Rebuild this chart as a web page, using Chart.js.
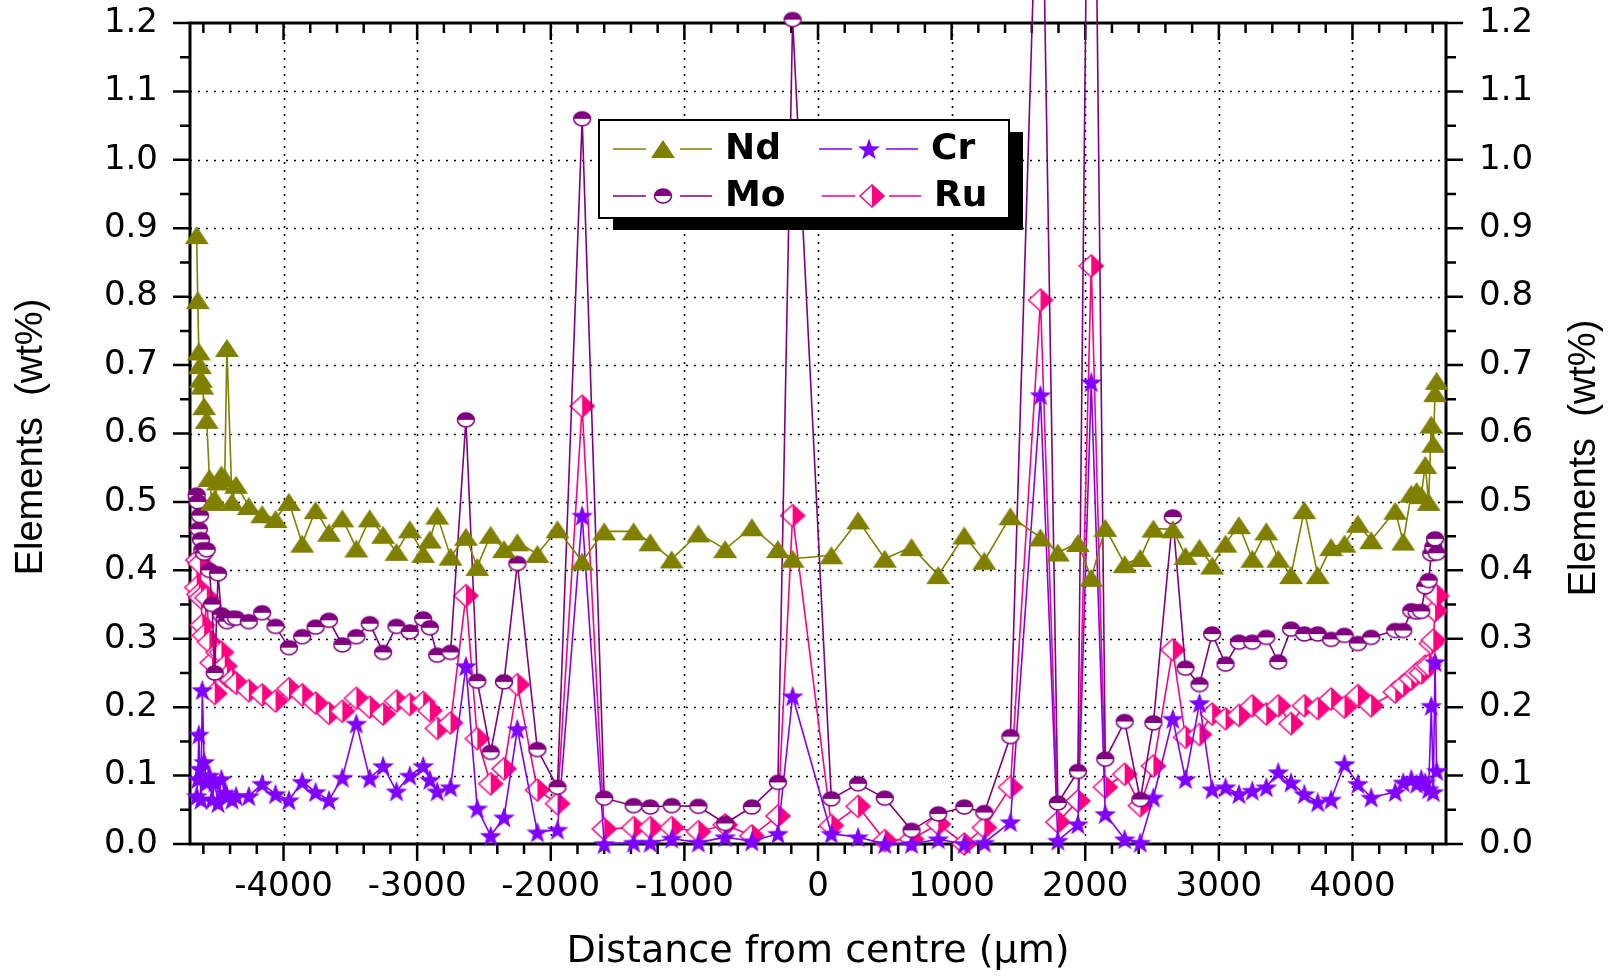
<!DOCTYPE html>
<html>
<head>
<meta charset="utf-8">
<script src="https://cdn.jsdelivr.net/npm/chart.js@4.4.0/dist/chart.umd.min.js"></script>
<style>
  html, body { margin: 0; padding: 0; background: #fff; }
  #wrap { width: 1614px; height: 976px; }
</style>
</head>
<body>
<div id="wrap"><canvas id="chart" width="1614" height="976"></canvas></div>
<script>
// distance from centre (um), shared by all four elements
const distance = [
  -4650, -4642, -4634, -4626, -4618, -4608, -4594, -4575, -4555, -4535, -4515, -4490, -4465, -4440, -4424, -4385, -4355,
  -4260, -4160, -4060, -3960, -3860, -3760, -3660, -3560, -3455, -3355, -3255, -3155, -3055, -2955, -2905, -2850, -2750,
  -2635, -2550, -2450, -2350, -2250, -2100, -1950, -1765, -1600, -1380, -1255, -1095, -895, -695, -495, -300, -190,
  100, 300, 500, 700, 900, 1095, 1245, 1440, 1665, 1795, 1945, 2045, 2150, 2295, 2412, 2510, 2655, 2750, 2855, 2950,
  3050, 3150, 3250, 3355, 3445, 3540, 3640, 3740, 3840, 3940, 4040, 4140, 4320, 4380, 4440, 4480, 4515, 4545, 4570,
  4590, 4605, 4618, 4630
];
const nd = [
  0.89, 0.795, 0.72, 0.70, 0.68, 0.67, 0.64, 0.62, 0.535, 0.50, 0.505, 0.53, 0.54, 0.535, 0.725, 0.50, 0.525,
  0.494, 0.482, 0.475, 0.50, 0.439, 0.488, 0.455, 0.476, 0.432, 0.476, 0.452, 0.427, 0.46, 0.424, 0.445, 0.48, 0.42,
  0.449, 0.405, 0.452, 0.431, 0.441, 0.424, 0.46, 0.413, 0.457, 0.457, 0.441, 0.416, 0.454, 0.431, 0.463, 0.431, 0.417,
  0.422, 0.473, 0.417, 0.434, 0.393, 0.451, 0.414, 0.479, 0.448, 0.426, 0.44, 0.389, 0.462, 0.409, 0.418, 0.461, 0.46, 0.421, 0.433, 0.407,
  0.439, 0.466, 0.417, 0.457, 0.417, 0.393, 0.488, 0.393, 0.434, 0.439, 0.468, 0.444, 0.487, 0.442, 0.512, 0.516, 0.51, 0.554, 0.50,
  0.613, 0.585, 0.659, 0.677
];
const mo = [
  0.51, 0.50, 0.46, 0.48, 0.445, 0.43, 0.425, 0.43, 0.40, 0.35, 0.25, 0.395, 0.335, 0.33, 0.325, 0.33, 0.33,
  0.325, 0.338, 0.318, 0.287, 0.303, 0.317, 0.327, 0.291, 0.303, 0.322, 0.28, 0.318, 0.31, 0.329, 0.316, 0.276, 0.28,
  0.62, 0.238, 0.134, 0.237, 0.41, 0.138, 0.083, 1.06, 0.067, 0.056, 0.054, 0.056, 0.055, 0.03, 0.054, 0.09, 1.205,
  0.066, 0.088, 0.067, 0.02, 0.044, 0.054, 0.046, 0.157, 1.6, 0.06, 0.106, 2.0, 0.124, 0.179, 0.065, 0.177, 0.478, 0.257, 0.233, 0.307,
  0.263, 0.295, 0.295, 0.302, 0.266, 0.314, 0.307, 0.307, 0.299, 0.305, 0.293, 0.302, 0.312, 0.312, 0.341, 0.339, 0.34, 0.376, 0.385,
  0.424, 0.434, 0.446, 0.425
];
const cr = [
  0.07, 0.095, 0.16, 0.11, 0.065, 0.225, 0.12, 0.09, 0.10, 0.065, 0.09, 0.06, 0.095, 0.075, 0.07, 0.065, 0.07,
  0.07, 0.088, 0.073, 0.064, 0.091, 0.076, 0.064, 0.097, 0.176, 0.096, 0.114, 0.077, 0.10, 0.114, 0.094, 0.077, 0.083,
  0.26, 0.052, 0.012, 0.039, 0.168, 0.017, 0.021, 0.48, 0.0, 0.002, 0.002, 0.008, 0.002, 0.01, 0.004, 0.015, 0.216,
  0.015, 0.01, 0.0, 0.0, 0.007, 0.0, 0.002, 0.032, 0.656, 0.005, 0.029, 0.675, 0.044, 0.007, 0.002, 0.068, 0.183, 0.095, 0.206, 0.08,
  0.083, 0.073, 0.078, 0.083, 0.105, 0.09, 0.073, 0.061, 0.065, 0.117, 0.088, 0.068, 0.076, 0.09, 0.095, 0.088, 0.095, 0.09, 0.08,
  0.202, 0.076, 0.266, 0.107
];
const ru = [
  0.375, 0.415, 0.365, 0.41, 0.36, 0.32, 0.305, 0.36, 0.295, 0.265, 0.22, 0.28, 0.28, 0.26, 0.245, 0.24, 0.235,
  0.224, 0.218, 0.209, 0.227, 0.218, 0.206, 0.191, 0.194, 0.213, 0.20, 0.19, 0.209, 0.204, 0.207, 0.195, 0.169, 0.177,
  0.363, 0.154, 0.088, 0.11, 0.233, 0.079, 0.059, 0.64, 0.022, 0.024, 0.024, 0.024, 0.018, 0.028, 0.012, 0.041, 0.48,
  0.027, 0.055, 0.005, 0.007, 0.029, 0.0, 0.024, 0.083, 0.795, 0.032, 0.063, 0.845, 0.083, 0.102, 0.056, 0.114, 0.284, 0.156, 0.16, 0.19,
  0.183, 0.188, 0.202, 0.19, 0.202, 0.176, 0.202, 0.198, 0.212, 0.20, 0.217, 0.202, 0.222, 0.232, 0.241, 0.249, 0.25, 0.26, 0.261,
  0.293, 0.298, 0.341, 0.363
];

const xTicks = [-4000, -3000, -2000, -1000, 0, 1000, 2000, 3000, 4000];
const yTicks = [0, 0.1, 0.2, 0.3, 0.4, 0.5, 0.6, 0.7, 0.8, 0.9, 1.0, 1.1, 1.2];

const OLIVE = '#808000', PURPLE = '#800080', VIOLET = '#8000FF', PINK = '#FF0080';

// marker images, Origin style
function marker(kind) {
  const c = document.createElement('canvas');
  c.width = 28; c.height = 26;
  const g = c.getContext('2d');
  g.lineWidth = 1.5;
  if (kind === 'tri') {
    g.fillStyle = OLIVE;
    g.beginPath(); g.moveTo(2, 22); g.lineTo(26, 22); g.lineTo(14, 4); g.closePath(); g.fill();
  } else if (kind === 'half') {
    g.fillStyle = '#fff';
    g.beginPath(); g.ellipse(14, 13, 8.5, 7, 0, 0, Math.PI * 2); g.fill();
    g.fillStyle = PURPLE;
    g.beginPath(); g.ellipse(14, 13, 8.5, 7, 0, Math.PI, Math.PI * 2); g.closePath(); g.fill();
    g.strokeStyle = PURPLE;
    g.beginPath(); g.ellipse(14, 13, 8.5, 7, 0, 0, Math.PI * 2); g.stroke();
  } else if (kind === 'star') {
    g.fillStyle = VIOLET;
    g.beginPath();
    for (let i = 0; i < 10; i++) {
      const r = i % 2 ? 4.6 : 11.5;
      const a = -Math.PI / 2 + i * Math.PI / 5;
      g.lineTo(14 + r * Math.cos(a), 14 + r * Math.sin(a));
    }
    g.closePath(); g.fill();
  } else {
    g.fillStyle = '#fff';
    g.beginPath(); g.moveTo(2, 13); g.lineTo(14, 2); g.lineTo(26, 13); g.lineTo(14, 24); g.closePath(); g.fill();
    g.fillStyle = PINK;
    g.beginPath(); g.moveTo(14, 2); g.lineTo(26, 13); g.lineTo(14, 24); g.closePath(); g.fill();
    g.strokeStyle = PINK;
    g.beginPath(); g.moveTo(2, 13); g.lineTo(14, 2); g.lineTo(26, 13); g.lineTo(14, 24); g.closePath(); g.stroke();
  }
  return c;
}

const markers = { Nd: marker('tri'), Mo: marker('half'), Cr: marker('star'), Ru: marker('dia') };
const colours = { Nd: OLIVE, Mo: PURPLE, Cr: VIOLET, Ru: PINK };

function series(name, values) {
  return {
    label: name,
    data: distance.map((d, i) => ({ x: d, y: values[i] })),
    borderColor: colours[name],
    backgroundColor: colours[name],
    borderWidth: 1.6,
    pointStyle: markers[name],
    pointRadius: 8,
    tension: 0,
    clip: false
  };
}

const tickFont = { family: 'DejaVu Sans', size: 34 };

const framePlugin = {
  id: 'frame',
  beforeDatasetsDraw(chart) {
    const { ctx, chartArea: a, scales: { x, y } } = chart;
    ctx.save();
    // dotted grid
    ctx.strokeStyle = '#000';
    ctx.lineWidth = 1.6;
    ctx.setLineDash([2, 6]);
    xTicks.forEach(v => {
      const px = Math.round(x.getPixelForValue(v)) + 0.5;
      ctx.beginPath(); ctx.moveTo(px, a.bottom); ctx.lineTo(px, a.top); ctx.stroke();
    });
    yTicks.forEach(v => {
      if (v === 0 || v === 1.2) return;
      const py = Math.round(y.getPixelForValue(v)) + 0.5;
      ctx.beginPath(); ctx.moveTo(a.left, py); ctx.lineTo(a.right, py); ctx.stroke();
    });
    ctx.setLineDash([]);
    // frame
    ctx.lineWidth = 3;
    ctx.strokeRect(a.left, a.top, a.right - a.left, a.bottom - a.top);
    // tick marks
    ctx.lineWidth = 2.5;
    ctx.beginPath();
    for (let v = -4600; v <= 4600; v += 200) {
      const px = x.getPixelForValue(v);
      const len = v % 1000 === 0 ? 17 : 10;
      ctx.moveTo(px, a.bottom); ctx.lineTo(px, a.bottom + len);
      ctx.moveTo(px, a.top); ctx.lineTo(px, a.top + len);
    }
    for (let k = 0; k <= 24; k++) {
      const py = y.getPixelForValue(k * 0.05);
      const len = k % 2 === 0 ? 17 : 10;
      ctx.moveTo(a.left, py); ctx.lineTo(a.left - len, py);
      ctx.moveTo(a.right, py); ctx.lineTo(a.right + len, py);
    }
    ctx.stroke();
    ctx.restore();
  },
  afterDatasetsDraw(chart) {
    const { ctx } = chart;
    ctx.save();
    // axis titles
    ctx.fillStyle = '#000';
    ctx.textAlign = 'center';
    ctx.textBaseline = 'middle';
    ctx.font = '38px "DejaVu Sans"';
    ctx.fillText('Distance from centre (\u03bcm)', 818, 952);
    ctx.font = '38px "Liberation Sans"';
    [[32, 437], [1585, 458]].forEach(([tx, ty]) => {
      ctx.save();
      ctx.translate(tx, ty);
      ctx.rotate(-Math.PI / 2);
      ctx.fillText('Elements  (wt%)', 0, 0);
      ctx.restore();
    });
    // legend box with shadow
    ctx.fillStyle = '#000';
    ctx.fillRect(613, 132, 410, 98);
    ctx.fillStyle = '#fff';
    ctx.fillRect(599, 120, 410, 98);
    ctx.strokeStyle = '#000';
    ctx.lineWidth = 2;
    ctx.strokeRect(599, 120, 410, 98);
    const items = [['Nd', 613, 149], ['Mo', 613, 196], ['Cr', 819, 149], ['Ru', 822, 196]];
    ctx.font = 'bold 36px "DejaVu Sans"';
    ctx.textAlign = 'left';
    items.forEach(([name, lx, ly]) => {
      ctx.strokeStyle = colours[name];
      ctx.lineWidth = 1.5;
      ctx.beginPath();
      ctx.moveTo(lx, ly); ctx.lineTo(lx + 33, ly);
      ctx.moveTo(lx + 67, ly); ctx.lineTo(lx + 99, ly);
      ctx.stroke();
      const m = markers[name];
      ctx.drawImage(m, lx + 50 - m.width / 2, ly - m.height / 2);
      ctx.fillStyle = '#000';
      ctx.fillText(name, lx + 112, ly + 1);
    });
    ctx.restore();
  }
};

const yScale = (pos, width, pad) => ({
  type: 'linear',
  position: pos,
  min: 0,
  max: 1.2,
  afterBuildTicks: s => { s.ticks = yTicks.map(v => ({ value: v })); },
  afterFit: s => { s.width = width; s.paddingTop = 0; s.paddingBottom = 0; },
  grid: { display: false, drawTicks: false },
  border: { display: false },
  ticks: { padding: pad, font: tickFont, color: '#000', callback: v => Number(v).toFixed(1) }
});

new Chart(document.getElementById('chart'), {
  type: 'line',
  data: {
    datasets: [series('Nd', nd), series('Mo', mo), series('Cr', cr), series('Ru', ru)]
  },
  options: {
    responsive: false,
    devicePixelRatio: 1,
    animation: false,
    events: [],
    layout: { padding: { top: 23, left: 0, right: 0, bottom: 0 } },
    plugins: { legend: { display: false }, tooltip: { enabled: false } },
    scales: {
      x: {
        type: 'linear',
        min: -4700,
        max: 4700,
        afterBuildTicks: s => { s.ticks = xTicks.map(v => ({ value: v })); },
        afterFit: s => { s.height = 132; s.paddingLeft = 0; s.paddingRight = 0; },
        grid: { display: false, drawTicks: false },
        border: { display: false },
        ticks: { padding: 23, font: tickFont, color: '#000', maxRotation: 0, autoSkip: false, callback: v => String(v) }
      },
      y: yScale('left', 190, 32),
      y2: yScale('right', 168, 33)
    }
  },
  plugins: [framePlugin]
});
</script>
</body>
</html>
